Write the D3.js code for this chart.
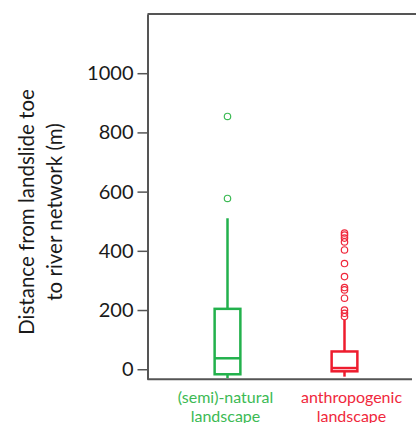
<!DOCTYPE html>
<html>
<head>
<meta charset="utf-8">
<script src="https://cdn.jsdelivr.net/npm/d3@7"></script>
<style>
  body { margin: 0; background: #fff; }
  svg { display: block; font-family: Lato, 'Open Sans', sans-serif; }
</style>
</head>
<body>
<div class="wrapper"></div>
<script>
// data
const categories = ['(semi)-natural landscape', 'anthropogenic landscape']
const colors = ['#22b14c', '#ee1c2e']
const labelColors = ['#3cba54', '#f0283c']
const whiskerLow = [-30, -25]
const q1 = [-17, -7]
const median = [37, 4]
const q3 = [204, 60]
const whiskerHigh = [510, 167]
const outliers = [
  [577, 854],
  [178, 189, 200, 240, 268, 276, 313, 357, 403, 430, 443, 453, 460]
]
const yTicks = [0, 200, 400, 600, 800, 1000]
const yTitle = ['Distance from landslide toe', 'to river network (m)']

const width = 417,
  height = 423

const svg = d3.select('.wrapper')
  .append('svg')
  .attr('width', width)
  .attr('height', height)

const y = d3.scaleLinear().domain([-34, 1200]).range([379.3, 14])
const x = d3.scaleBand().domain(categories).range([169, 403])
  .paddingInner(0.78).paddingOuter(0.39)
const xc = d => x(d) + x.bandwidth() / 2

const axisColor = '#555'

// frame: top line, left axis, bottom axis
svg.append('line')
  .attr('x1', 147.5).attr('x2', 416)
  .attr('y1', 14).attr('y2', 14)
  .attr('stroke', axisColor).attr('stroke-width', 2)

svg.append('line')
  .attr('x1', 147.5).attr('x2', 412)
  .attr('y1', y.range()[0]).attr('y2', y.range()[0])
  .attr('stroke', axisColor).attr('stroke-width', 2)

const yAxis = svg.append('g')
  .attr('transform', 'translate(147.5,0)')
  .call(d3.axisLeft(y).tickValues(yTicks).tickFormat(d3.format('d'))
    .tickSize(10).tickPadding(4).tickSizeOuter(0))

yAxis.select('.domain').attr('stroke', axisColor).attr('stroke-width', 2)
yAxis.selectAll('.tick line').attr('stroke', axisColor).attr('stroke-width', 1.5)
yAxis.selectAll('.tick text')
  .attr('fill', '#1a1a1a')
  .style('font-size', '20px')
  .style('font-family', 'Lato, sans-serif')

// y axis title
const title = svg.append('text')
  .attr('transform', 'translate(0,212) rotate(-90)')
  .attr('text-anchor', 'middle')
  .attr('fill', '#1a1a1a')
  .style('font-size', '20.5px')

title.selectAll('tspan')
  .data(yTitle)
  .join('tspan')
  .attr('x', 0)
  .attr('y', (d, i) => 34 + i * 28)
  .text(d => d)

// boxes
const box = svg.selectAll('g.box')
  .data(categories)
  .join('g')
  .attr('class', 'box')

box.append('line')
  .attr('x1', d => xc(d)).attr('x2', d => xc(d))
  .attr('y1', (d, i) => y(q3[i])).attr('y2', (d, i) => y(whiskerHigh[i]))
  .attr('stroke', (d, i) => colors[i]).attr('stroke-width', 2.5)

box.append('line')
  .attr('x1', d => xc(d)).attr('x2', d => xc(d))
  .attr('y1', (d, i) => y(q1[i])).attr('y2', (d, i) => y(whiskerLow[i]))
  .attr('stroke', (d, i) => colors[i]).attr('stroke-width', 2.5)

box.append('rect')
  .attr('x', d => x(d))
  .attr('width', x.bandwidth())
  .attr('y', (d, i) => y(q3[i]))
  .attr('height', (d, i) => y(q1[i]) - y(q3[i]))
  .attr('fill', 'none')
  .attr('stroke', (d, i) => colors[i]).attr('stroke-width', 2.5)

box.append('line')
  .attr('x1', d => x(d)).attr('x2', d => x(d) + x.bandwidth())
  .attr('y1', (d, i) => y(median[i])).attr('y2', (d, i) => y(median[i]))
  .attr('stroke', (d, i) => colors[i]).attr('stroke-width', 2.5)

box.each(function (d, i) {
  d3.select(this).selectAll('circle')
    .data(outliers[i])
    .join('circle')
    .attr('cx', xc(d))
    .attr('cy', v => y(v))
    .attr('r', 3.2)
    .attr('fill', 'none')
    .attr('stroke', labelColors[i])
    .attr('stroke-width', 1.2)
})

// category labels
const labels = svg.selectAll('text.cat')
  .data(categories)
  .join('text')
  .attr('class', 'cat')
  .attr('text-anchor', 'middle')
  .attr('fill', (d, i) => labelColors[i])
  .style('font-size', '16px')

labels.selectAll('tspan')
  .data((d, i) => {
    const words = d.split(' ')
    return words.map(w => ({ w, cx: xc(d) + (i ? 7 : -2) }))
  })
  .join('tspan')
  .attr('x', t => t.cx)
  .attr('y', (t, j) => 402.5 + j * 19)
  .text(t => t.w)
</script>
</body>
</html>
